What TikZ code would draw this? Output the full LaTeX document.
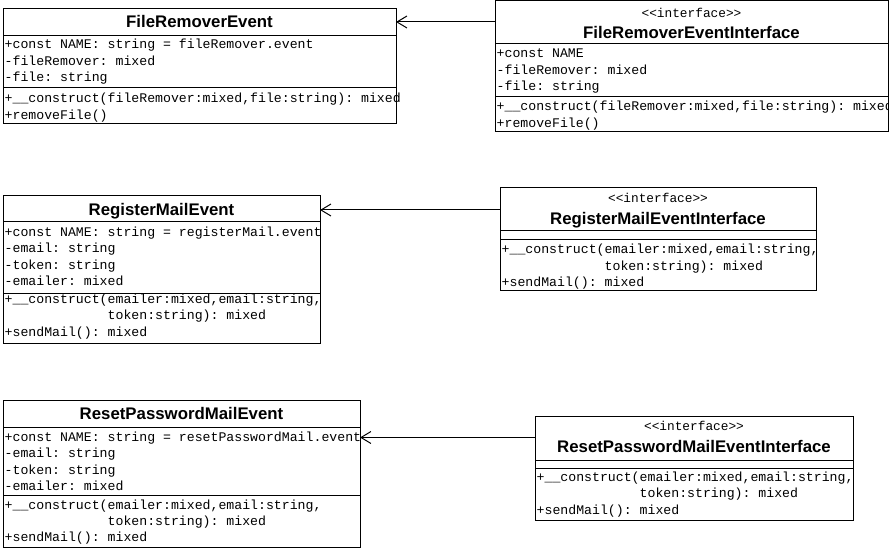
\documentclass[tikz,border=0pt]{standalone}
\usepackage{fontspec}
\setsansfont{Liberation Sans}
\setmonofont{Liberation Mono}
\usetikzlibrary{arrows.meta}

\tikzset{
  umlbox/.style={draw, line width=1pt, anchor=north west, inner sep=0pt, outer sep=0pt},
  sepline/.style={line width=1pt},
  title/.style={font=\sffamily\bfseries\fontsize{16.8}{20}\selectfont, inner sep=0pt, text height=12pt, text depth=0pt},
  stereo/.style={font=\ttfamily\fontsize{12.8}{15}\selectfont, inner sep=0pt, text height=7.5pt, text depth=0pt},
  member/.style={font=\ttfamily\fontsize{13.2}{16}\selectfont, anchor=west, inner sep=0pt, text height=8pt, text depth=0pt},
  realizes/.style={line width=1pt, -{Straight Barb[length=10pt,width=12pt]}},
}

\begin{document}
\begin{tikzpicture}[x=1pt, y=-1pt]
    \useasboundingbox (0,0) rectangle (889,548);
    % FileRemoverEvent
    \node[umlbox, minimum width=393pt, minimum height=115pt] (fre) at (3,9) {};
    \draw[sepline] (fre.west |- 0,36) -- (fre.east |- 0,36);
    \draw[sepline] (fre.west |- 0,88) -- (fre.east |- 0,88);
    \node[title] (fre-title) at (fre.north |- 0,22) {FileRemoverEvent};
    \foreach \txt [count=\i] in {{+const NAME: string = fileRemover.event}, {-fileRemover: mixed}, {-file: string}}
        \node[member] (fre-a\i) at (4.5,{45+16.3*(\i-1)}) {\txt};
    \foreach \txt [count=\i] in {{+\_\_construct(fileRemover:mixed,file:string): mixed}, {+removeFile()}}
        \node[member] (fre-m\i) at (4.5,{99+16.3*(\i-1)}) {\txt};

    % FileRemoverEventInterface
    \node[umlbox, minimum width=393pt, minimum height=131pt] (fri) at (495,1) {};
    \draw[sepline] (fri.west |- 0,44) -- (fri.east |- 0,44);
    \draw[sepline] (fri.west |- 0,97) -- (fri.east |- 0,97);
    \node[stereo] (fri-stereo) at (fri.north |- 0,13.5) {<<interface>>};
    \node[title] (fri-title) at (fri.north |- 0,32.5) {FileRemoverEventInterface};
    \foreach \txt [count=\i] in {{+const NAME}, {-fileRemover: mixed}, {-file: string}}
        \node[member] (fri-a\i) at (496.5,{54+16.3*(\i-1)}) {\txt};
    \foreach \txt [count=\i] in {{+\_\_construct(fileRemover:mixed,file:string): mixed}, {+removeFile()}}
        \node[member] (fri-m\i) at (496.5,{107+16.3*(\i-1)}) {\txt};

    % RegisterMailEvent
    \node[umlbox, minimum width=317pt, minimum height=147pt] (rme) at (3,196) {};
    \draw[sepline] (rme.west |- 0,222) -- (rme.east |- 0,222);
    \draw[sepline] (rme.west |- 0,293) -- (rme.east |- 0,293);
    \node[title] (rme-title) at (rme.north |- 0,210) {RegisterMailEvent};
    \foreach \txt [count=\i] in {{+const NAME: string = registerMail.event}, {-email: string}, {-token: string}, {-emailer: mixed}}
        \node[member] (rme-a\i) at (4.5,{232.5+16.3*(\i-1)}) {\txt};
    \foreach \txt [count=\i] in {{+\_\_construct(emailer:mixed,email:string,}, {\phantom{+\_\_construct(}token:string): mixed}, {+sendMail(): mixed}}
        \node[member] (rme-m\i) at (4.5,{299.5+16.3*(\i-1)}) {\txt};

    % RegisterMailEventInterface
    \node[umlbox, minimum width=316pt, minimum height=102pt] (rmi) at (500,188) {};
    \draw[sepline] (rmi.west |- 0,231) -- (rmi.east |- 0,231);
    \draw[sepline] (rmi.west |- 0,240) -- (rmi.east |- 0,240);
    \node[stereo] (rmi-stereo) at (rmi.north |- 0,199) {<<interface>>};
    \node[title] (rmi-title) at (rmi.north |- 0,218.5) {RegisterMailEventInterface};
    \foreach \txt [count=\i] in {{+\_\_construct(emailer:mixed,email:string,}, {\phantom{+\_\_construct(}token:string): mixed}, {+sendMail(): mixed}}
        \node[member] (rmi-m\i) at (501.5,{250+16*(\i-1)}) {\txt};

    % ResetPasswordMailEvent
    \node[umlbox, minimum width=357pt, minimum height=147pt] (rpe) at (3,400) {};
    \draw[sepline] (rpe.west |- 0,427) -- (rpe.east |- 0,427);
    \draw[sepline] (rpe.west |- 0,495.5) -- (rpe.east |- 0,495.5);
    \node[title] (rpe-title) at (rpe.north |- 0,413.5) {ResetPasswordMailEvent};
    \foreach \txt [count=\i] in {{+const NAME: string = resetPasswordMail.event}, {-email: string}, {-token: string}, {-emailer: mixed}}
        \node[member] (rpe-a\i) at (4.5,{437.5+16.3*(\i-1)}) {\txt};
    \foreach \txt [count=\i] in {{+\_\_construct(emailer:mixed,email:string,}, {\phantom{+\_\_construct(}token:string): mixed}, {+sendMail(): mixed}}
        \node[member] (rpe-m\i) at (4.5,{505+16.3*(\i-1)}) {\txt};

    % ResetPasswordMailEventInterface
    \node[umlbox, minimum width=318pt, minimum height=104pt] (rpi) at (535,416) {};
    \draw[sepline] (rpi.west |- 0,460) -- (rpi.east |- 0,460);
    \draw[sepline] (rpi.west |- 0,468) -- (rpi.east |- 0,468);
    \node[stereo] (rpi-stereo) at (rpi.north |- 0,427) {<<interface>>};
    \node[title] (rpi-title) at (rpi.north |- 0,446.5) {ResetPasswordMailEventInterface};
    \foreach \txt [count=\i] in {{+\_\_construct(emailer:mixed,email:string,}, {\phantom{+\_\_construct(}token:string): mixed}, {+sendMail(): mixed}}
        \node[member] (rpi-m\i) at (536.5,{477.5+16.3*(\i-1)}) {\txt};

    % interface -> class
    \draw[realizes] (fri.west |- fre-title) -- (fre-title -| fre.east);
    \draw[realizes] (rmi.west |- rme-title) -- (rme-title -| rme.east);
    \draw[realizes] (rpi.west |- rpe-a1) -- (rpe-a1 -| rpe.east);
\end{tikzpicture}
\end{document}
